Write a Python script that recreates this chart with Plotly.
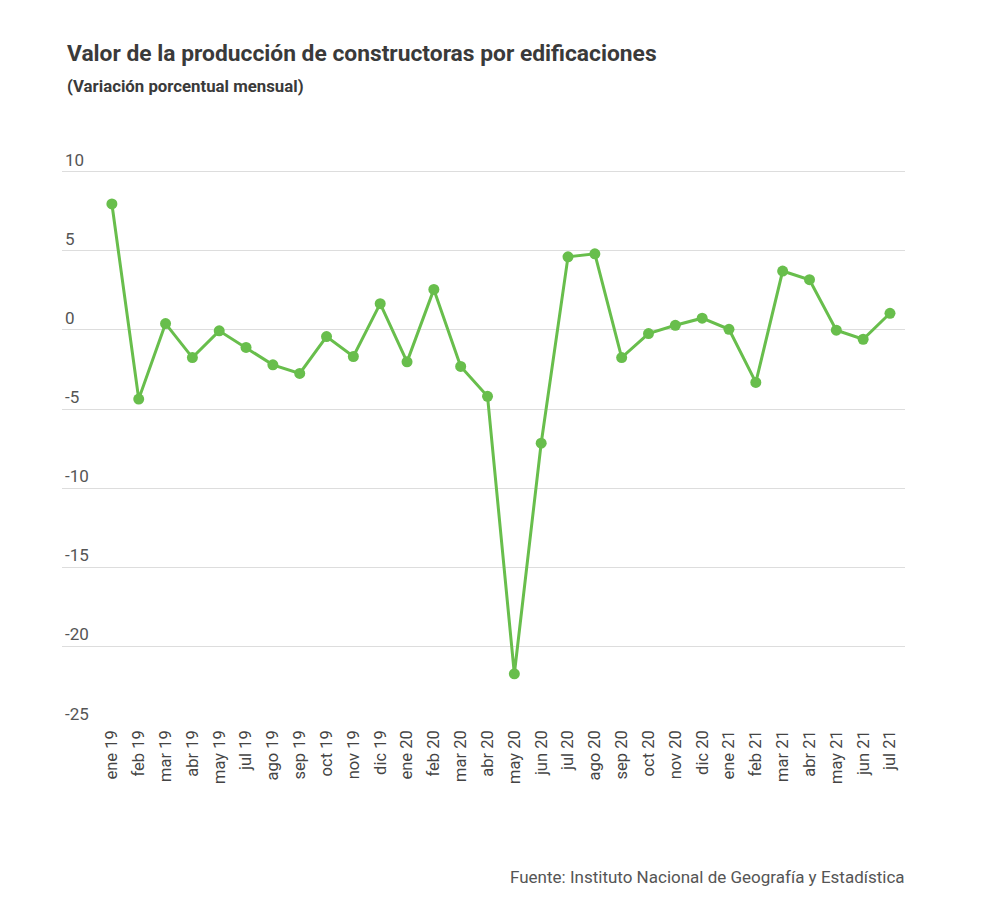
import plotly.graph_objects as go

meses = ['ene 19', 'feb 19', 'mar 19', 'abr 19', 'may 19', 'jul 19', 'ago 19',
         'sep 19', 'oct 19', 'nov 19', 'dic 19', 'ene 20', 'feb 20', 'mar 20',
         'abr 20', 'may 20', 'jun 20', 'jul 20', 'ago 20', 'sep 20', 'oct 20',
         'nov 20', 'dic 20', 'ene 21', 'feb 21', 'mar 21', 'abr 21', 'may 21',
         'jun 21', 'jul 21']
variacion = [7.96, -4.37, 0.40, -1.75, -0.06, -1.11, -2.21,
             -2.75, -0.42, -1.68, 1.66, -2.02, 2.56, -2.31,
             -4.20, -21.73, -7.16, 4.62, 4.81, -1.75, -0.23,
             0.29, 0.74, 0.04, -3.32, 3.72, 3.17, -0.02,
             -0.59, 1.05]
y_ticks = [10, 5, 0, -5, -10, -15, -20, -25]
y_text = ['10', '5', '0', '-5', '-10', '-15', '-20', '-25']

verde = 'rgb(104,190,76)'

fig = go.Figure()
fig.add_trace(go.Scatter(
    x=list(range(len(meses))), y=variacion,
    mode='lines+markers',
    line=dict(color=verde, width=3),
    marker=dict(color=verde, size=11),
    hoverinfo='y'
))

# la pagina tiene ~8px de margen en el body, se compensa en los margenes
fig.update_layout(
    width=1000, height=912,
    margin=dict(l=54, r=103, t=131.5, b=193.5),
    paper_bgcolor='white', plot_bgcolor='white',
    font=dict(family='Roboto', color='#444'),
    showlegend=False,
    xaxis=dict(
        tickmode='array',
        tickvals=list(range(len(meses))),
        ticktext=meses,
        tickangle=-90,
        range=[-1.86, 29.56],
        showgrid=False, zeroline=False, showline=False,
        tickfont=dict(size=16.5, color='#444'),
        ticks='', ticklen=4,
    ),
    yaxis=dict(
        tickmode='array',
        tickvals=y_ticks,
        ticktext=y_text,
        range=[-25.03, 12],
        ticklabelposition='inside top',
        ticks='', ticklen=0,
        gridcolor='#dddddd', gridwidth=1.3,
        zeroline=False, showline=False,
        tickfont=dict(size=17, color='#555'),
    ),
    annotations=[
        dict(text='<b>Valor de la producción de constructoras por edificaciones</b>',
             xref='paper', yref='paper', x=0.0035, y=1.0, yshift=86.5,
             xanchor='left', yanchor='middle', showarrow=False,
             font=dict(size=22.8, color='#3a3a3a')),
        dict(text='<b>(Variación porcentual mensual)</b>',
             xref='paper', yref='paper', x=0.0035, y=1.0, yshift=54.5,
             xanchor='left', yanchor='middle', showarrow=False,
             font=dict(size=16.8, color='#3a3a3a')),
        dict(text='Fuente: Instituto Nacional de Geografía y Estadística',
             xref='paper', yref='paper', x=1.0, y=0, yshift=-151, xshift=2,
             xanchor='right', yanchor='middle', showarrow=False,
             font=dict(size=17, color='#555')),
    ]
)

fig.write_html('out.html')
